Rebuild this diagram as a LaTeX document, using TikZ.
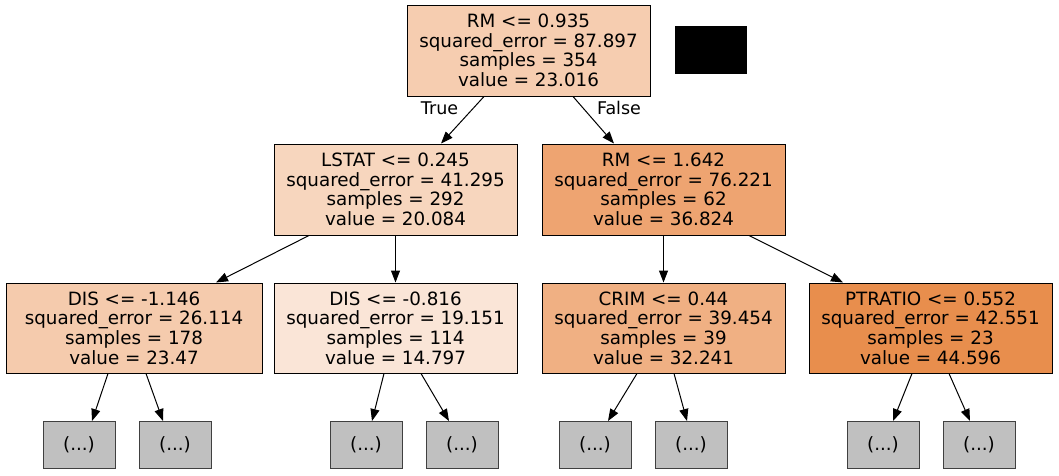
\documentclass[tikz,border=0pt]{standalone}
\usepackage{fontspec}
\setmainfont{DejaVu Sans}
\usetikzlibrary{arrows.meta}
\definecolor{cRoot}{HTML}{F6CDB0}
\definecolor{cLstat}{HTML}{F7D6BE}
\definecolor{cRm}{HTML}{EEA471}
\definecolor{cDis}{HTML}{F5CBAD}
\definecolor{cDisb}{HTML}{FAE5D7}
\definecolor{cCrim}{HTML}{F0B083}
\definecolor{cPtr}{HTML}{E88E4D}
\definecolor{cLeaf}{HTML}{C0C0C0}
\tikzset{
  tnode/.style={draw=black, line width=1pt, rectangle, inner sep=0pt, minimum width=243pt, minimum height=91pt, align=center, font=\fontsize{18.3}{19.6}\selectfont},
  leaf/.style={draw=black!75, line width=1pt, rectangle, fill=cLeaf, inner sep=0pt, minimum width=72pt, minimum height=47pt, font=\fontsize{18.3}{19.6}\selectfont},
  edge/.style={line width=1pt, -{Triangle[length=12pt,width=9pt]}},
  elabel/.style={font=\fontsize{17.5}{19}\selectfont, inner sep=0pt}
}
\begin{document}
\begin{tikzpicture}[x=1pt,y=-1pt]
\useasboundingbox (0,0) rectangle (1059,475);
\node[tnode, fill=cRoot] (root) at (528.5,50.5) {RM <= 0.935\\squared\_error = 87.897\\samples = 354\\value = 23.016};
\fill[black] (675,26) rectangle (747,74);
\node[tnode, fill=cLstat] (lstat) at (395.5,189.5) {LSTAT <= 0.245\\squared\_error = 41.295\\samples = 292\\value = 20.084};
\node[tnode, fill=cRm] (rm) at (663.5,189.5) {RM <= 1.642\\squared\_error = 76.221\\samples = 62\\value = 36.824};
\node[tnode, fill=cDis, minimum width=256pt, minimum height=90pt] (dis) at (134,328) {DIS <= -1.146\\squared\_error = 26.114\\samples = 178\\value = 23.47};
\node[tnode, fill=cDisb, minimum height=90pt] (disb) at (395.5,328) {DIS <= -0.816\\squared\_error = 19.151\\samples = 114\\value = 14.797};
\node[tnode, fill=cCrim, minimum height=90pt] (crim) at (663.5,328) {CRIM <= 0.44\\squared\_error = 39.454\\samples = 39\\value = 32.241};
\node[tnode, fill=cPtr, minimum height=90pt] (ptr) at (930.5,328) {PTRATIO <= 0.552\\squared\_error = 42.551\\samples = 23\\value = 44.596};
\node[leaf] (l1) at (79,445) {(...)};
\node[leaf] (l2) at (175,445) {(...)};
\node[leaf] (l3) at (366,445) {(...)};
\node[leaf] (l4) at (462,445) {(...)};
\node[leaf] (l5) at (595,445) {(...)};
\node[leaf] (l6) at (691,445) {(...)};
\node[leaf] (l7) at (883,445) {(...)};
\node[leaf] (l8) at (979,445) {(...)};
\draw[edge] ([xshift=-44.5pt]root.south) -- ([xshift=45.5pt]lstat.north);
\draw[edge] ([xshift=44.5pt]root.south) -- ([xshift=-49.5pt]rm.north);
\node[elabel] (tl) at (439.5,108) {True};
\node[elabel] (fl) at (619,108) {False};
\draw[edge] ([xshift=-86.5pt]lstat.south) -- ([xshift=82pt]dis.north);
\draw[edge] (lstat.south) -- (disb.north);
\draw[edge] (rm.south) -- (crim.north);
\draw[edge] ([xshift=85.5pt]rm.south) -- ([xshift=-87.5pt]ptr.north);
\draw[edge] ([xshift=-26pt]dis.south) -- ([xshift=13pt]l1.north);
\draw[edge] ([xshift=12pt]dis.south) -- ([xshift=-12pt]l2.north);
\draw[edge] ([xshift=-11.5pt]disb.south) -- ([xshift=6pt]l3.north);
\draw[edge] ([xshift=25.5pt]disb.south) -- ([xshift=-13pt]l4.north);
\draw[edge] ([xshift=-26.5pt]crim.south) -- ([xshift=13pt]l5.north);
\draw[edge] ([xshift=10.5pt]crim.south) -- ([xshift=-4pt]l6.north);
\draw[edge] ([xshift=-18.5pt]ptr.south) -- ([xshift=10pt]l7.north);
\draw[edge] ([xshift=18.5pt]ptr.south) -- ([xshift=-9pt]l8.north);
\end{tikzpicture}
\end{document}
